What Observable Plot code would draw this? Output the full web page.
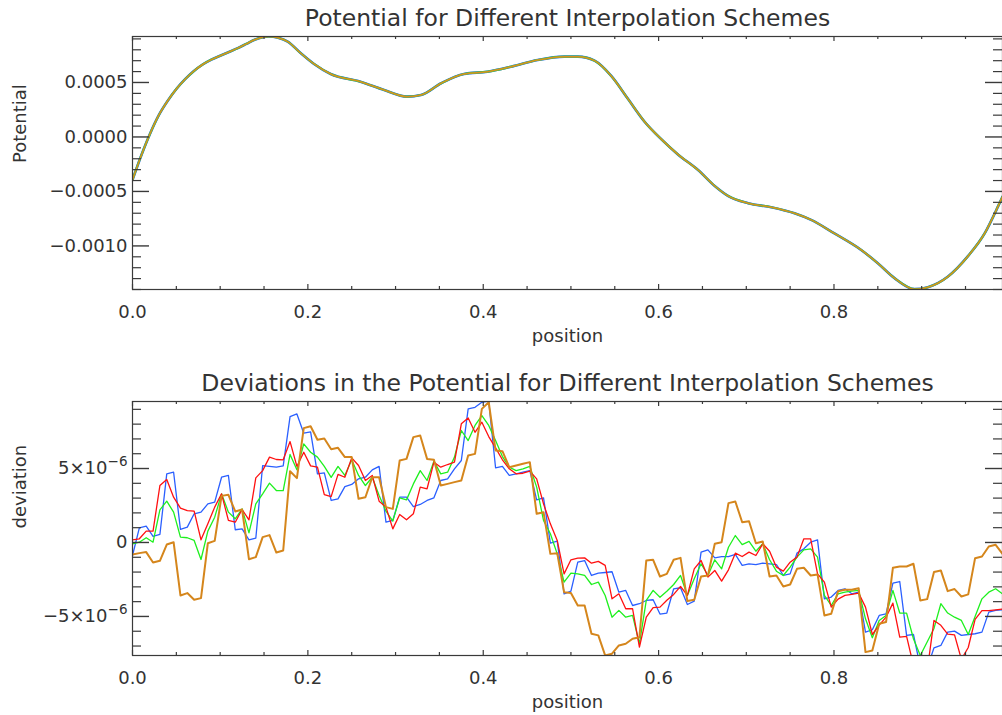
<!DOCTYPE html>
<html><head><meta charset="utf-8">
<script src="https://cdn.jsdelivr.net/npm/d3@7"></script>
<script src="https://cdn.jsdelivr.net/npm/@observablehq/plot@0.6"></script>
<style>
html,body{margin:0;padding:0;background:#fff;}
#chart{width:1002px;height:715px;overflow:hidden;background:#fff;}
#chart svg{display:block;}
</style></head><body><div id="chart"></div>
<script>
// ---------- data ----------
// grid: 128 cells on [0,1)
const gridCount = 128;
const positions = d3.range(gridCount).map(i => i / gridCount);

// top panel: potential (units of 1e-4), sampled along the curve
const potX = [0, 0.01, 0.02, 0.03, 0.04, 0.05, 0.06, 0.07, 0.08, 0.09, 0.10, 0.11, 0.12, 0.13, 0.14, 0.15, 0.155, 0.166, 0.177, 0.192, 0.207, 0.226, 0.26, 0.287, 0.313, 0.329, 0.352, 0.378, 0.405, 0.432, 0.462, 0.4925, 0.508, 0.527, 0.546, 0.565, 0.584, 0.603, 0.622, 0.645, 0.664, 0.679, 0.702, 0.7285, 0.755, 0.774, 0.8, 0.831, 0.85, 0.869, 0.892, 0.907, 0.930, 0.953, 0.972, 0.987, 0.9922];
const potential = [-3.94, -1.7, 0.3, 2.0, 3.3, 4.4, 5.3, 6.05, 6.65, 7.1, 7.45, 7.8, 8.15, 8.55, 8.95, 9.18, 9.22, 9.1, 8.75, 7.68, 6.7, 5.78, 5.07, 4.31, 3.70, 3.85, 4.93, 5.78, 5.99, 6.45, 7.06, 7.37, 7.37, 7.0, 5.6, 3.5, 1.4, -0.2, -1.6, -3.03, -4.5, -5.4, -6.08, -6.45, -7.0, -7.61, -8.83, -10.37, -11.59, -12.96, -13.97, -13.79, -12.81, -10.92, -8.83, -6.39, -5.48];

// bottom panel: deviations (units of 1e-6), one value per grid cell
const devBlue = [-0.88,0.99,1.1,0.41,0.54,4.64,4.75,0.88,1.04,1.94,2.05,2.61,2.73,4.41,4.53,0.86,0.92,0.18,0.29,5.2,5.14,5.09,5.18,8.51,8.69,7.39,7.48,4.64,4.71,2.84,2.95,3.78,3.92,4.3,4.41,4.91,5.14,1.37,1.49,3.06,3.06,2.43,2.57,2.84,3.02,4.19,4.3,4.98,5.54,9.03,9.14,9.48,9.55,5.05,5.14,4.53,4.64,4.75,4.86,2.88,3.02,-0.05,0.09,-3.47,-3.29,-1.33,-1.22,-2.23,-2.07,-2.03,-1.98,-3.36,-3.24,-4.26,-4.14,-3.92,-3.87,-4.84,-4.77,-3.13,-3.06,-4.19,-3.96,-0.65,-0.5,-1.04,-0.95,-0.95,-0.81,-1.55,-1.44,-1.49,-1.4,-1.44,-1.49,-2.23,-2.12,-0.72,-0.43,0.02,0.18,-3.81,-3.69,-3.24,-3.13,-3.47,-3.36,-6.06,-5.9,-4.93,-4.82,-2.75,-2.64,-6.28,-6.22,-8.4,-8.5,-7.12,-6.96,-6.06,-5.99,-6.28,-6.22,-6.17,-6.06,-4.71,-4.59,-4.55];
const devRed = [0.18,0.25,0.77,0.77,3.85,4.26,3.06,2.32,2.16,2.12,0.18,1.26,2.39,3.29,1.49,1.37,2.23,1.53,4.37,4.86,5.77,5.61,5.59,6.82,5.14,6.1,5.18,5.09,3.24,3.1,4.6,4.41,5.72,5.2,4.19,4.53,2.79,2.39,0.92,1.89,1.53,1.94,3.74,3.63,5.43,5.09,5.27,5.43,8.02,8.42,7.45,8.13,7.16,6.4,5.59,4.98,4.64,4.68,4.82,4.3,2.61,1.26,0.14,-2.12,-1.17,-1.06,-1.04,-1.4,-1.28,-1.55,-3.81,-3.47,-4.48,-4.48,-7.07,-5.05,-4.41,-4.37,-3.9,-3.51,-2.97,-3.58,-1.78,-1.22,-2.34,-1.89,-2.61,-1.85,-0.72,-0.95,-0.65,-0.88,-0.09,-0.59,-1.67,-1.94,-1.33,-0.99,0.25,0.25,-2.12,-2.68,-4.37,-3.83,-3.58,-3.51,-3.42,-4.37,-6.22,-5.59,-5.05,-4.1,-6.4,-6.35,-8.3,-9.0,-8.7,-5.27,-5.6,-6.2,-6.25,-7.9,-7.1,-5.2,-4.6,-4.6,-4.55,-4.5];
const devGreen = [-0.09,0.02,0.32,0.02,2.21,2.79,2.05,0.36,0.32,0.14,-1.15,0.77,1.71,3.29,2.05,1.6,2.27,0.65,2.61,3.29,4.01,3.51,3.51,5.95,4.91,6.67,6.1,5.77,5.14,4.4,5.14,4.53,5.59,4.53,3.85,4.41,3.18,2.12,1.44,3.02,2.88,3.96,4.86,4.19,5.5,4.64,4.75,5.77,7.57,6.89,7.91,8.58,7.91,6.89,5.81,5.09,4.86,4.98,5.14,3.74,1.49,0.59,-0.77,-2.68,-2.07,-2.12,-2.23,-2.84,-2.68,-3.58,-5.05,-4.59,-5.05,-4.93,-6.85,-3.92,-3.24,-3.7,-3.3,-2.84,-2.23,-3.58,-2.45,-1.44,-2.23,-1.17,-1.78,-0.32,0.47,-0.14,0.07,-0.59,-0.09,-1.17,-1.94,-2.23,-1.67,-0.99,-0.5,-0.43,-0.99,-3.58,-4.26,-3.47,-3.36,-3.29,-3.24,-5.16,-6.44,-5.27,-4.93,-3.24,-4.77,-4.77,-6.51,-7.64,-6.73,-5.81,-4.14,-4.77,-5.05,-5.27,-6.22,-5.0,-3.81,-3.36,-3.13,-3.47];
const devOrange = [-0.81,-0.72,-0.65,-1.35,-1.24,-0.14,0.02,-3.58,-3.42,-3.87,-3.76,-0.05,0.11,3.15,3.22,2.1,2.23,-1.13,-0.99,0.36,0.5,-0.68,-0.54,4.82,4.35,7.73,7.86,6.94,7.03,6.3,6.4,5.77,5.77,2.95,3.06,4.41,4.41,2.39,2.27,5.54,5.65,7.12,7.23,5.65,5.59,3.85,3.96,4.08,4.19,5.88,5.99,9.03,9.48,6.22,6.17,5.09,5.2,5.32,5.43,1.94,2.05,-0.77,-0.72,-3.36,-3.42,-4.26,-4.26,-6.17,-6.28,-7.64,-7.52,-6.96,-6.85,-6.51,-6.4,-1.22,-1.17,-2.3,-2.12,-1.17,-1.04,-3.96,-3.87,-2.3,-2.23,-0.09,0.02,2.66,2.77,1.37,1.44,-0.05,0.07,-2.3,-2.23,-2.97,-2.84,-1.78,-1.71,-2.23,-2.16,-4.93,-4.82,-3.29,-3.2,-3.2,-3.09,-7.41,-7.3,-5.5,-5.38,-1.71,-1.62,-1.62,-1.44,-3.92,-3.83,-2.0,-1.89,-3.29,-3.15,-3.65,-3.51,-1.06,-0.95,-0.27,-0.16,-0.77];

// axes
const xDomain = [0, 127 / 128];
const xMajor = [0, 0.2, 0.4, 0.6, 0.8];
const xMajorLabels = ["0.0", "0.2", "0.4", "0.6", "0.8"];
const xMinor = [0.05, 0.1, 0.15, 0.25, 0.3, 0.35, 0.45, 0.5, 0.55, 0.65, 0.7, 0.75, 0.85, 0.9, 0.95];

const topYDomain = [-14.0, 9.22];
const topYMajor = [-10, -5, 0, 5];
const topYLabels = ["\u22120.0010", "\u22120.0005", "0.0000", "0.0005"];
const topYMinor = [-14, -13, -12, -11, -9, -8, -7, -6, -4, -3, -2, -1, 1, 2, 3, 4, 6, 7, 8, 9];

const botYDomain = [-7.64, 9.53];
const botYMajor = [-5, 0, 5];
const botYMantissa = ["\u22125\u00d710", "0", "5\u00d710"];
const botYExponent = ["\u22126", "", "\u22126"];
const botYMinor = [-7, -6, -4, -3, -2, -1, 1, 2, 3, 4, 6, 7, 8, 9];

const titles = ["Potential for Different Interpolation Schemes", "Deviations in the Potential for Different Interpolation Schemes"];
const xLabel = "position";
const yLabels = ["Potential", "deviation"];

// ---------- drawing ----------
const W = 1002, ML = 132, MR = 0;
const plotW = W - ML - MR;
const AX = "#3a3a3a";
const FONT = "DejaVu Sans, Verdana, sans-serif";

function axisMarks(plotH, yMajor, yMinor, title, ylabel) {
  return [
    Plot.frame({stroke: AX, strokeWidth: 1.2}),
    Plot.tickX(xMajor, {x: d => d, insetTop: plotH - 5, stroke: AX, strokeWidth: 1.2}),
    Plot.tickX(xMinor, {x: d => d, insetTop: plotH - 3, stroke: AX, strokeWidth: 1.2}),
    Plot.tickX(xMajor, {x: d => d, insetBottom: plotH - 5, stroke: AX, strokeWidth: 1.2}),
    Plot.tickX(xMinor, {x: d => d, insetBottom: plotH - 3, stroke: AX, strokeWidth: 1.2}),
    Plot.tickY(yMajor, {y: d => d, insetRight: plotW - 17, stroke: AX, strokeWidth: 1.4}),
    Plot.tickY(yMinor, {y: d => d, insetRight: plotW - 9, stroke: AX, strokeWidth: 1.2}),
    Plot.tickY(yMajor, {y: d => d, insetLeft: plotW - 17, stroke: AX, strokeWidth: 1.4}),
    Plot.tickY(yMinor, {y: d => d, insetLeft: plotW - 9, stroke: AX, strokeWidth: 1.2}),
    Plot.text(xMajor, {x: d => d, text: (d, i) => xMajorLabels[i], frameAnchor: "bottom", dy: 23, lineAnchor: "middle", fontSize: 18, fill: "#333"}),
    Plot.text([title], {frameAnchor: "top", dy: -18, lineAnchor: "middle", fontSize: 23.5, fill: "#333"}),
    Plot.text([xLabel], {frameAnchor: "bottom", dy: 47, lineAnchor: "middle", fontSize: 18, fill: "#333"}),
    Plot.text([ylabel], {frameAnchor: "left", dx: -112, rotate: -90, lineAnchor: "middle", fontSize: 18, fill: "#333"})
  ];
}

// top panel
const potRows = potX.map((x, i) => ({x, v: potential[i]}));
const topH = 362, topMT = 36, topMB = 73;
const topPlot = Plot.plot({
  width: W, height: topH, marginLeft: ML, marginRight: MR, marginTop: topMT, marginBottom: topMB,
  style: {fontFamily: FONT, background: "#fff"},
  x: {domain: xDomain, axis: null},
  y: {domain: topYDomain, axis: null},
  marks: [
    Plot.line(potRows, {x: "x", y: "v", curve: "monotone-x", stroke: "#2f62ff", strokeWidth: 2.6, clip: true}),
    Plot.line(potRows, {x: "x", y: "v", curve: "monotone-x", stroke: "#3fc83f", strokeWidth: 2.2, clip: true}),
    Plot.line(potRows, {x: "x", y: "v", curve: "monotone-x", stroke: "#d8921e", strokeWidth: 1.5, clip: true}),
    ...axisMarks(topH - topMT - topMB, topYMajor, topYMinor, titles[0], yLabels[0]),
    Plot.text(topYMajor, {y: d => d, text: (d, i) => topYLabels[i], frameAnchor: "left", textAnchor: "end", dx: -5, lineAnchor: "middle", fontSize: 18, fill: "#333"})
  ]
});

// bottom panel
const seriesDefs = [
  {name: "blue", values: devBlue, color: "#2a5fff", width: 1.3},
  {name: "green", values: devGreen, color: "#1ef01e", width: 1.3},
  {name: "red", values: devRed, color: "#ff1010", width: 1.3},
  {name: "orange", values: devOrange, color: "#d5861c", width: 2.0}
];
const botH = 353, botMT = 39, botMB = 60;
const botPlot = Plot.plot({
  width: W, height: botH, marginLeft: ML, marginRight: MR, marginTop: botMT, marginBottom: botMB,
  style: {fontFamily: FONT, background: "#fff"},
  x: {domain: xDomain, axis: null},
  y: {domain: botYDomain, axis: null},
  marks: [
    ...seriesDefs.map(s => Plot.line(positions.map((x, i) => ({x, v: s.values[i]})),
      {x: "x", y: "v", stroke: s.color, strokeWidth: s.width, clip: true})),
    ...axisMarks(botH - botMT - botMB, botYMajor, botYMinor, titles[1], yLabels[1]),
    Plot.text(botYMajor, {y: d => d, text: (d, i) => botYMantissa[i], frameAnchor: "left", textAnchor: "end",
      dx: -5, lineAnchor: "middle", fontSize: 18, fill: "#333", filter: (d, i) => botYExponent[i] === ""}),
    Plot.text(botYMajor, {y: d => d, text: (d, i) => botYMantissa[i], frameAnchor: "left", textAnchor: "end",
      dx: -25, lineAnchor: "middle", fontSize: 18, fill: "#333", filter: (d, i) => botYExponent[i] !== ""}),
    Plot.text(botYMajor, {y: d => d, text: (d, i) => botYExponent[i], frameAnchor: "left", textAnchor: "end",
      dx: -5, dy: -7, lineAnchor: "middle", fontSize: 13.5, fill: "#333", filter: (d, i) => botYExponent[i] !== ""})
  ]
});

const chart = document.getElementById("chart");
chart.appendChild(topPlot);
chart.appendChild(botPlot);
</script></body></html>
